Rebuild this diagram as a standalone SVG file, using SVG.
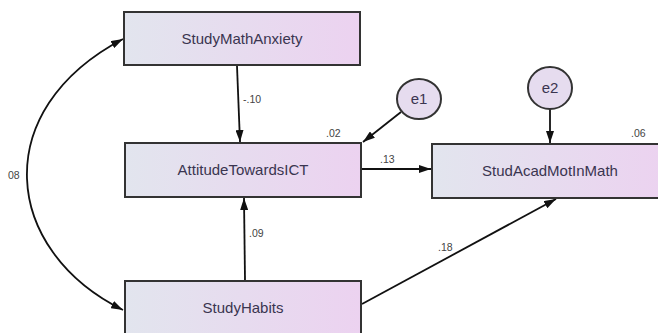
<svg xmlns="http://www.w3.org/2000/svg" width="658" height="333" viewBox="0 0 658 333">
<defs>
<linearGradient id="g" x1="0" y1="0" x2="1" y2="0">
<stop offset="0" stop-color="#e2e5ee"/>
<stop offset="1" stop-color="#ecd2f0"/>
</linearGradient>
<marker id="a" viewBox="0 0 12 8" refX="12" refY="4" markerWidth="12" markerHeight="8" markerUnits="userSpaceOnUse" orient="auto-start-reverse">
<path d="M0,0 L12,4 L0,8 Z" fill="#111"/>
</marker>
<style>
.box{fill:url(#g);stroke:#333;stroke-width:2}
.ell{fill:#e6dcef;stroke:#333;stroke-width:2}
.t{font-family:"Liberation Sans",Arial,sans-serif;font-size:15px;fill:#3a3550;text-anchor:middle}
.l{font-family:"Liberation Sans",Arial,sans-serif;font-size:10.5px;fill:#444}
.c{fill:none;stroke:#111;stroke-width:1.8}
</style>
</defs>
<rect width="658" height="333" fill="#fff"/>
<g id="connectors">
<path class="c" d="M237,66 L240,142" marker-end="url(#a)"/>
<path class="c" d="M401,112 L363,142" marker-end="url(#a)"/>
<path class="c" d="M362,169 L431,169" marker-end="url(#a)"/>
<path class="c" d="M550,109 L550,143" marker-end="url(#a)"/>
<path class="c" d="M245,280 L244,198" marker-end="url(#a)"/>
<path class="c" d="M362,304 L556,199" marker-end="url(#a)"/>
<path class="c" d="M123,310 C2,250 -12,110 123,39" marker-start="url(#a)" marker-end="url(#a)"/>
<text class="l" x="243" y="103">-.10</text>
<text class="l" x="326" y="137">.02</text>
<text class="l" x="380" y="163">.13</text>
<text class="l" x="631" y="137">.06</text>
<text class="l" x="249" y="237">.09</text>
<text class="l" x="438" y="251">.18</text>
<text class="l" x="8" y="179">08</text>
</g>
<g id="StudyMathAnxiety">
<rect class="box" x="124" y="12" width="236" height="53"/>
<text class="t" x="242" y="44">StudyMathAnxiety</text>
</g>
<g id="AttitudeTowardsICT">
<rect class="box" x="125" y="143" width="236" height="54"/>
<text class="t" x="243" y="175">AttitudeTowardsICT</text>
</g>
<g id="StudyHabits">
<rect class="box" x="125" y="281" width="236" height="54"/>
<text class="t" x="243" y="313">StudyHabits</text>
</g>
<g id="StudAcadMotInMath">
<rect class="box" x="432" y="144" width="236" height="54"/>
<text class="t" x="550" y="176">StudAcadMotInMath</text>
</g>
<g id="e1">
<ellipse class="ell" cx="419" cy="99" rx="22" ry="20"/>
<text class="t" x="419" y="104">e1</text>
</g>
<g id="e2">
<ellipse class="ell" cx="550" cy="88" rx="22" ry="21"/>
<text class="t" x="550" y="93">e2</text>
</g>
</svg>
